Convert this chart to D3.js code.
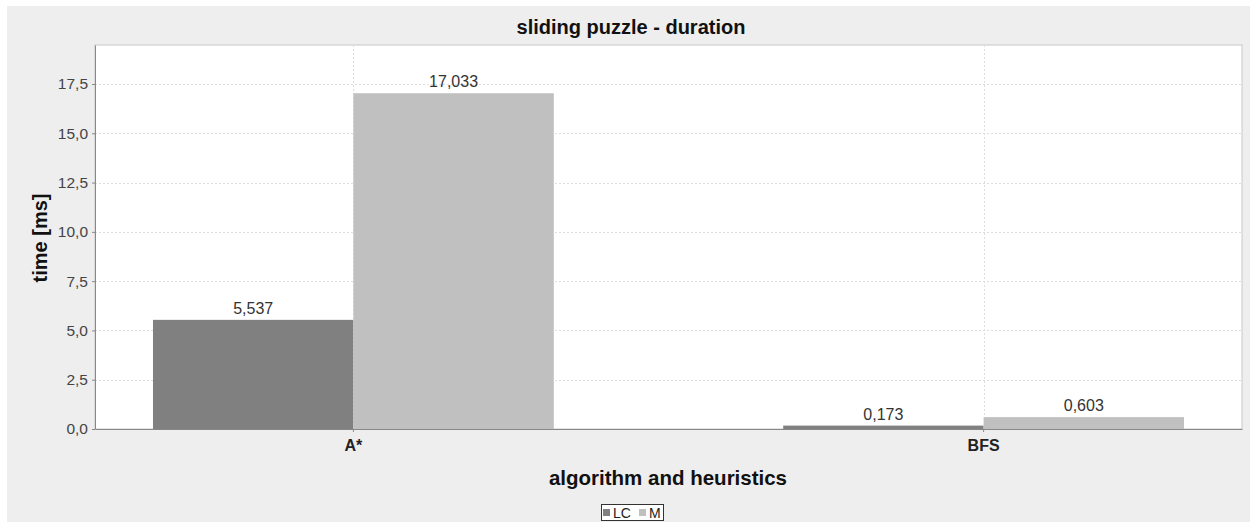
<!DOCTYPE html>
<html>
<head>
<meta charset="utf-8">
<script src="https://cdn.jsdelivr.net/npm/d3@7"></script>
<style>
  html, body { margin: 0; padding: 0; background: #ffffff; }
  svg { display: block; }
  text { font-family: "Liberation Sans", Arial, sans-serif; }
</style>
</head>
<body>
<svg id="chart" width="1250" height="523"></svg>
<script>
// Chart data
const categories = ["A*", "BFS"];
const seriesNames = ["LC", "M"];
const valuesLC = [5.537, 0.173];
const valuesM = [17.033, 0.603];
const yTicks = [0, 2.5, 5, 7.5, 10, 12.5, 15, 17.5];
const seriesColors = ["#808080", "#c0c0c0"];

const series = [valuesLC, valuesM];
const fmtTick = v => d3.format(".1f")(v).replace(".", ",");
const fmtVal = v => d3.format(".3f")(v).replace(".", ",");

const svg = d3.select("#chart");

// Chart background panel
svg.append("rect")
  .attr("x", 7).attr("y", 6).attr("width", 1243).attr("height", 516)
  .attr("fill", "#eeeeee");

const plot = { left: 95, top: 45, right: 1242, bottom: 429 };

const x = d3.scaleBand()
  .domain(categories)
  .range([plot.left, plot.right])
  .paddingInner(0.364)
  .paddingOuter(0.092);

const xs = d3.scaleBand()
  .domain(seriesNames)
  .range([0, x.bandwidth()]);

const y = d3.scaleLinear()
  .domain([0, 19.48])
  .range([plot.bottom, plot.top]);

// Plot area
svg.append("rect")
  .attr("x", plot.left).attr("y", plot.top)
  .attr("width", plot.right - plot.left).attr("height", plot.bottom - plot.top)
  .attr("fill", "#ffffff")
  .attr("stroke", "#c8c8c8").attr("stroke-width", 1);

// Gridlines
const grid = svg.append("g").attr("stroke", "#dedede").attr("stroke-dasharray", "2,2").attr("stroke-width", 1);
grid.selectAll("line.h").data(yTicks.filter(t => t > 0)).join("line")
  .attr("x1", plot.left).attr("x2", plot.right)
  .attr("y1", d => Math.round(y(d)) + 0.5).attr("y2", d => Math.round(y(d)) + 0.5);
grid.selectAll("line.v").data(categories).join("line")
  .attr("x1", d => Math.round(x(d) + x.bandwidth() / 2) + 0.5)
  .attr("x2", d => Math.round(x(d) + x.bandwidth() / 2) + 0.5)
  .attr("y1", plot.top).attr("y2", plot.bottom);

// Bars
const groups = svg.append("g").selectAll("g").data(categories).join("g")
  .attr("transform", d => `translate(${x(d)},0)`);

groups.selectAll("rect").data((c, i) => series.map((s, k) => ({ name: seriesNames[k], value: s[i], k })))
  .join("rect")
  .attr("x", d => xs(d.name))
  .attr("y", d => y(d.value))
  .attr("width", xs.bandwidth())
  .attr("height", d => y(0) - y(d.value))
  .attr("fill", d => seriesColors[d.k]);

// Value labels
groups.selectAll("text").data((c, i) => series.map((s, k) => ({ name: seriesNames[k], value: s[i], k })))
  .join("text")
  .attr("x", d => xs(d.name) + xs.bandwidth() / 2)
  .attr("y", d => y(d.value) - 6)
  .attr("text-anchor", "middle")
  .attr("font-size", 16)
  .attr("fill", "#333333")
  .text(d => fmtVal(d.value));

// Y axis
const yAxis = svg.append("g")
  .attr("transform", `translate(${plot.left},0)`)
  .call(d3.axisLeft(y).tickValues(yTicks).tickFormat(fmtTick).tickSize(3).tickSizeOuter(0).tickPadding(4));
yAxis.select(".domain").attr("stroke", "#888888");
yAxis.selectAll(".tick line").attr("stroke", "#888888");
yAxis.selectAll(".tick text").attr("font-size", 15.5).attr("fill", "#444444")
  .attr("font-family", "'Liberation Sans', Arial, sans-serif");

// X axis
const xAxis = svg.append("g")
  .attr("transform", `translate(0,${plot.bottom})`)
  .call(d3.axisBottom(x).tickSize(3).tickSizeOuter(0).tickPadding(8));
xAxis.select(".domain").attr("stroke", "#888888");
xAxis.selectAll(".tick line").attr("stroke", "#888888");
xAxis.selectAll(".tick text").attr("font-size", 16).attr("font-weight", "bold").attr("fill", "#222222")
  .attr("font-family", "'Liberation Sans', Arial, sans-serif");

// Title
svg.append("text")
  .attr("x", 631).attr("y", 34)
  .attr("text-anchor", "middle")
  .attr("font-size", 20).attr("font-weight", "bold").attr("fill", "#111111")
  .text("sliding puzzle - duration");

// Axis titles
svg.append("text")
  .attr("transform", "translate(47,238) rotate(-90)")
  .attr("text-anchor", "middle")
  .attr("font-size", 20).attr("font-weight", "bold").attr("fill", "#111111")
  .text("time [ms]");

svg.append("text")
  .attr("x", 668).attr("y", 485)
  .attr("text-anchor", "middle")
  .attr("font-size", 20.5).attr("font-weight", "bold").attr("fill", "#111111")
  .text("algorithm and heuristics");

// Legend
const legend = svg.append("g").attr("transform", "translate(601,504)");
legend.append("rect")
  .attr("x", 0.5).attr("y", 0.5).attr("width", 62).attr("height", 16)
  .attr("fill", "#ffffff").attr("stroke", "#333333").attr("stroke-width", 1);
const legendX = [2, 38];
seriesNames.forEach((name, k) => {
  legend.append("rect")
    .attr("x", legendX[k]).attr("y", 5).attr("width", 7).attr("height", 7)
    .attr("fill", seriesColors[k]);
  legend.append("text")
    .attr("x", legendX[k] + 10).attr("y", 13.5)
    .attr("font-size", 14).attr("fill", "#222222")
    .text(name);
});
</script>
</body>
</html>
